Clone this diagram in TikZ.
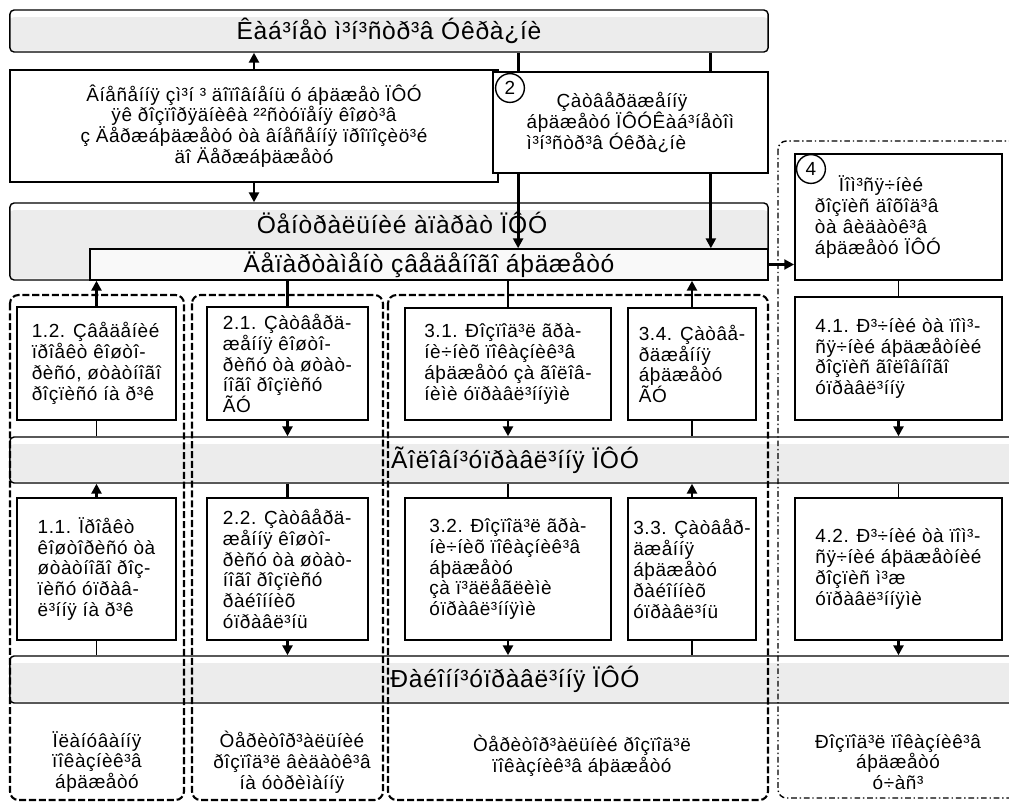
\documentclass[tikz,border=0pt]{standalone}
\usepackage{fontspec}
\setmainfont[LetterSpace=3]{Liberation Sans}
\usetikzlibrary{arrows.meta}
\colorlet{bandgray}{gray!15}
\colorlet{deplight}{gray!5}
\newcommand{\boxfont}{\fontsize{13.5}{14.8}\selectfont}
\newcommand{\bandfont}{\fontsize{17.5}{20}\selectfont}
\tikzset{
  box/.style={draw, line width=1.2pt, fill=white, inner sep=0pt, align=left, font=\boxfont},
  band/.style={draw, line width=1pt, rounded corners=3pt, inner sep=0pt, fill=white, font=\bandfont,
    path picture={\fill[bandgray] ([yshift=-5pt]path picture bounding box.north west)
      rectangle ([yshift=1pt]path picture bounding box.south east);}},
  subband/.style={draw, line width=1pt, fill=deplight, inner sep=0pt, font=\bandfont},
  zone/.style={line width=1.5pt, rounded corners=6pt, dash pattern=on 5pt off 2pt},
  zonefour/.style={line width=1pt, rounded corners=6pt, dash pattern=on 4pt off 2pt on 1pt off 2pt},
  conn/.style={line width=2pt, -{Triangle[length=7pt,width=7pt]}},
  thickline/.style={line width=2pt},
  thinline/.style={line width=1.1pt},
  num/.style={circle, draw, line width=1pt, fill=white, minimum size=0.72cm, inner sep=0pt, font=\boxfont},
  note/.style={align=center, font=\boxfont}
}
\begin{document}
\begin{tikzpicture}[x=0.025cm, y=-0.025cm]
        \useasboundingbox (0,0) rectangle (1009,802);
        \clip (0,0) rectangle (1009,802);
        %Bands
        \node[band, minimum width=18.95cm, minimum height=1.05cm] (kmu) at (389,31) {Êàá³íåò ì³í³ñòð³â Óêðà¿íè};
        \node[band, minimum width=18.95cm, minimum height=1.925cm] (cen) at (389,241.5) {};
        \node[font=\bandfont] (centxt) at (402,223) {Öåíòðàëüíèé àïàðàò ÏÔÓ};
        \node[subband, minimum width=16.95cm, minimum height=0.775cm] (dep) at (429,264.5) {Äåïàðòàìåíò çâåäåíîãî áþäæåòó};
        \node[band, minimum width=25.25cm, minimum height=1.15cm] (gol) at (515,460) {Ãîëîâí³óïðàâë³ííÿ ÏÔÓ};
        \node[band, minimum width=25.25cm, minimum height=1.175cm] (ray) at (515,679.5) {Ðàéîíí³óïðàâë³ííÿ ÏÔÓ};
        %Zones
        \draw[zone] (10,295) rectangle (184,800);
        \draw[zone] (192,295) rectangle (383,800);
        \draw[zone] (388,295) rectangle (768,800);
        \draw[zonefour] (778,141) rectangle (1040,798);
        %Top boxes
        \node[box, align=center, minimum width=12.2cm, minimum height=2.8cm] (bA) at (254,126)
          {Âíåñåííÿ çì³í ³ äîïîâíåíü ó áþäæåò ÏÔÓ\\ÿê ðîçïîðÿäíèêà ²²ñòóïåíÿ êîøò³â\\ç Äåðæáþäæåòó òà âíåñåííÿ ïðîïîçèö³é\\äî Äåðæáþäæåòó};
        \node[box, minimum width=6.875cm, minimum height=2.525cm] (b2) at (630.5,122.5)
          {\hspace*{0.75cm}Çàòâåðäæåííÿ\\áþäæåòó ÏÔÓÊàá³íåòîì\\ì³í³ñòð³â Óêðà¿íè};
        \node[box, text width=4.175cm, minimum width=5.175cm, minimum height=3.15cm] (b4) at (898.5,217)
          {\hspace*{0.6cm}Ïîì³ñÿ÷íèé\\ðîçïèñ äîõîä³â\\òà âèäàòê³â\\áþäæåòó ÏÔÓ};
        %Upper row
        \node[box, minimum width=3.975cm, minimum height=2.825cm] (b12) at (96.5,363.5) {1.2. Çâåäåíèé\\ïðîåêò êîøòî-\\ðèñó, øòàòíîãî\\ðîçïèñó íà ð³ê};
        \node[box, minimum width=4.025cm, minimum height=2.825cm] (b21) at (287.5,363.5) {2.1. Çàòâåðä-\\æåííÿ êîøòî-\\ðèñó òà øòàò-\\íîãî ðîçïèñó\\ÃÓ};
        \node[box, minimum width=5.15cm, minimum height=2.8cm] (b31) at (508,364) {3.1. Ðîçïîä³ë ãðà-\\íè÷íèõ ïîêàçíèê³â\\áþäæåòó çà ãîëîâ-\\íèìè óïðàâë³ííÿìè};
        \node[box, minimum width=3.2cm, minimum height=2.8cm] (b34) at (692,364) {3.4. Çàòâå-\\ðäæåííÿ\\áþäæåòó\\ÃÓ};
        \node[box, minimum width=5.175cm, minimum height=3.075cm] (b41) at (898.5,358.5) {4.1. Ð³÷íèé òà ïîì³-\\ñÿ÷íèé áþäæåòíèé\\ðîçïèñ ãîëîâíîãî\\óïðàâë³ííÿ};
        %Lower row
        \node[box, minimum width=3.975cm, minimum height=3.55cm] (b11) at (96.5,569) {1.1. Ïðîåêò\\êîøòîðèñó òà\\øòàòíîãî ðîç-\\ïèñó óïðàâ-\\ë³ííÿ íà ð³ê};
        \node[box, minimum width=4.025cm, minimum height=3.55cm] (b22) at (287.5,569) {2.2. Çàòâåðä-\\æåííÿ êîøòî-\\ðèñó òà øòàò-\\íîãî ðîçïèñó\\ðàéîííèõ\\óïðàâë³íü};
        \node[box, minimum width=5.15cm, minimum height=3.55cm] (b32) at (508,569) {3.2. Ðîçïîä³ë ãðà-\\íè÷íèõ ïîêàçíèê³â\\áþäæåòó\\çà ï³äëåãëèìè\\óïðàâë³ííÿìè};
        \node[box, minimum width=3.2cm, minimum height=3.55cm] (b33) at (692,569) {3.3. Çàòâåð-\\äæåííÿ\\áþäæåòó\\ðàéîííèõ\\óïðàâë³íü};
        \node[box, minimum width=5.175cm, minimum height=3.55cm] (b42) at (898.5,569) {4.2. Ð³÷íèé òà ïîì³-\\ñÿ÷íèé áþäæåòíèé\\ðîçïèñ ì³æ\\óïðàâë³ííÿìè};
        %Column notes
        \node[note] (t1) at (97,762) {Ïëàíóâàííÿ\\ïîêàçíèê³â\\áþäæåòó};
        \node[note] (t2) at (292,762) {Òåðèòîð³àëüíèé\\ðîçïîä³ë âèäàòê³â\\íà óòðèìàííÿ};
        \node[note] (t3) at (582,756) {Òåðèòîð³àëüíèé ðîçïîä³ë\\ïîêàçíèê³â áþäæåòó};
        \node[note] (t4) at (898,762) {Ðîçïîä³ë ïîêàçíèê³â\\áþäæåòó\\ó÷àñ³};
        %Arrows up
        \foreach \b/\s in {bA/kmu, b12/dep, b34/dep, b11/gol, b33/gol}
          \draw[conn] (\b.north) -- (\b.north |- \s.south);
        %Arrows down
        \foreach \b/\s in {bA/cen, b21/gol, b31/gol, b41/gol, b22/ray, b32/ray, b42/ray}
          \draw[conn] (\b.south) -- (\b.south |- \s.north);
        %Plain links
        \foreach \s/\b in {dep/b21, dep/b31, gol/b22}
          \draw[thickline] (\b.north |- \s.south) -- (\b.north);
        \foreach \s/\b in {gol/b32, gol/b42, b4/b41}
          \draw[thinline] (\b.north |- \s.south) -- (\b.north);
        \draw[thickline] (b34.south) -- (b34.south |- gol.north);
        \foreach \b/\s in {b12/gol, b11/ray, b33/ray}
          \draw[thinline] (\b.south) -- (\b.south |- \s.north);
        %Cabinet to box 2 and down
        \coordinate (c2l) at ([xshift=0.65cm]b2.north west);
        \coordinate (c2r) at ([xshift=-1.45cm]b2.north east);
        \foreach \c in {c2l, c2r} {
          \draw[thickline] (\c |- kmu.south) -- (\c);
          \draw[conn] (\c |- b2.south) -- (\c |- dep.north);
        }
        \draw[conn] (dep.east) -- (dep.east -| b4.west);
        %Numbers
        \node[num] (n2) at (510,88) {2};
        \node[num] (n4) at (811,169) {4};
\end{tikzpicture}
\end{document}
